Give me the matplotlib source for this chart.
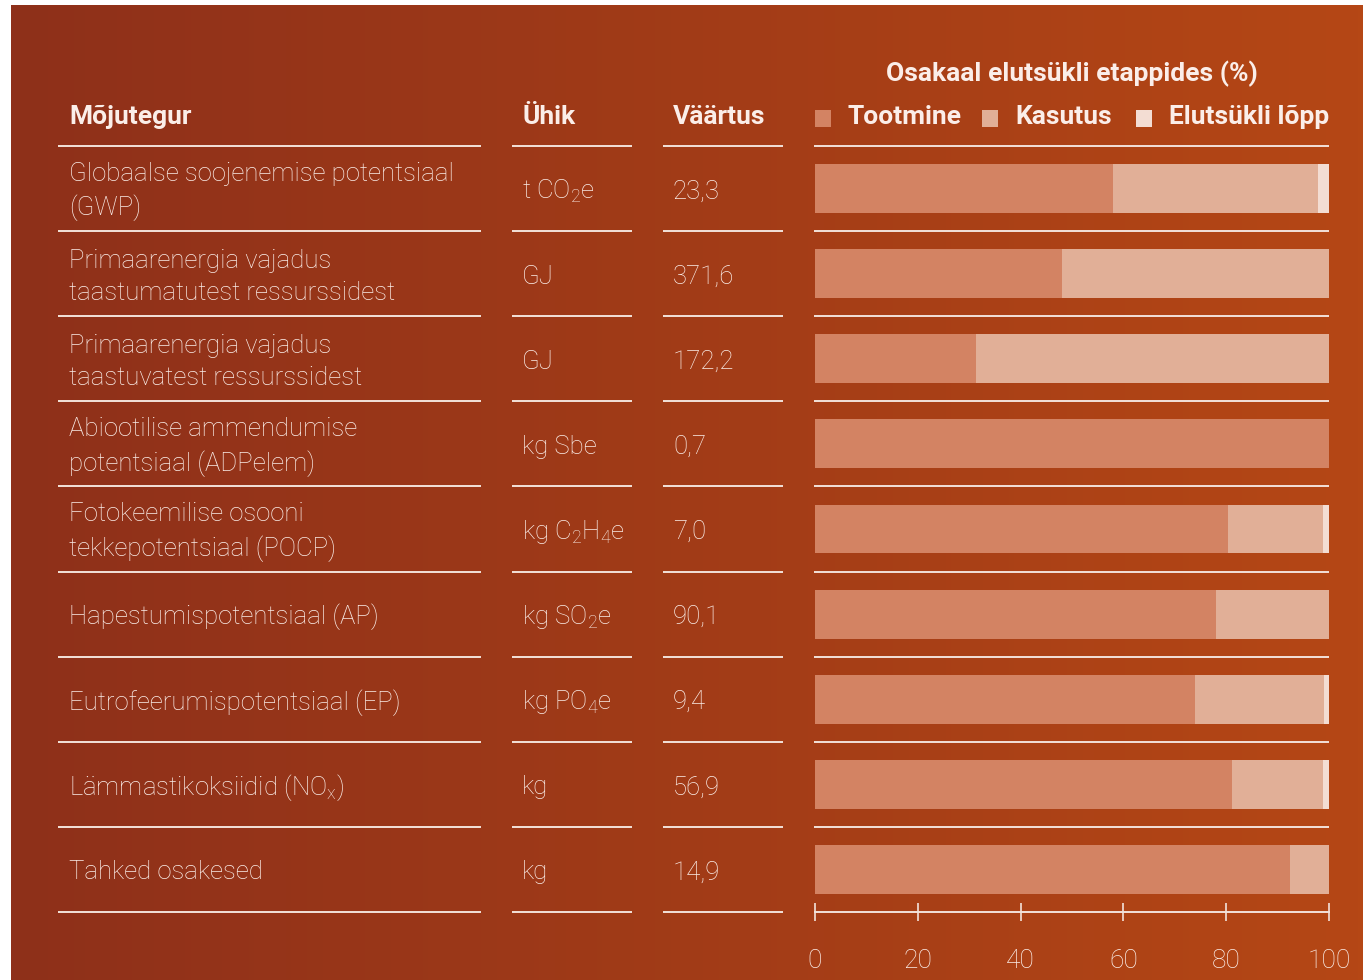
import numpy as np
import matplotlib
matplotlib.use("Agg")
import matplotlib.pyplot as plt
from matplotlib.patches import Rectangle
from matplotlib import font_manager

# --- Data
factors = [
    "Globaalse soojenemise potentsiaal\n(GWP)",
    "Primaarenergia vajadus\ntaastumatutest ressurssidest",
    "Primaarenergia vajadus\ntaastuvatest ressurssidest",
    "Abiootilise ammendumise\npotentsiaal (ADPelem)",
    "Fotokeemilise osooni\ntekkepotentsiaal (POCP)",
    "Hapestumispotentsiaal (AP)",
    "Eutrofeerumispotentsiaal (EP)",
    "Lämmastikoksiidid (NO$_{\\mathrm{x}}$)",
    "Tahked osakesed",
]
units = [
    "t CO$_{\\mathrm{2}}$e",
    "GJ",
    "GJ",
    "kg Sbe",
    "kg C$_{\\mathrm{2}}$H$_{\\mathrm{4}}$e",
    "kg SO$_{\\mathrm{2}}$e",
    "kg PO$_{\\mathrm{4}}$e",
    "kg",
    "kg",
]
values = ["23,3", "371,6", "172,2", "0,7", "7,0", "90,1", "9,4", "56,9", "14,9"]

stages = ["Tootmine", "Kasutus", "Elutsükli lõpp"]
tootmine = [58.0, 48.1, 31.3, 100.0, 80.4, 78.0, 73.9, 81.1, 92.4]
kasutus = [39.9, 51.9, 68.7, 0.0, 18.4, 22.0, 25.1, 17.7, 7.6]
lopp = [2.1, 0.0, 0.0, 0.0, 1.2, 0.0, 1.0, 1.2, 0.0]
ticks = [0, 20, 40, 60, 80, 100]

# --- Style
W, H = 1363, 980
colors = ["#d38363", "#e1af97", "#f3ddd3"]
txt_col = "#fbeee9"
line_col = "#f3e2da"

names = {f.name for f in font_manager.fontManager.ttflist}
fam = "Roboto" if "Roboto" in names else "DejaVu Sans"
plt.rcParams["font.family"] = [fam, "DejaVu Sans"]
plt.rcParams["mathtext.fontset"] = "custom"
plt.rcParams["mathtext.rm"] = fam + ":light"
plt.rcParams["mathtext.it"] = fam + ":light"

fig = plt.figure(figsize=(W / 100, H / 100), dpi=100, facecolor="white")

# -- background gradient
bg = fig.add_axes([11 / W, 0, 1 - 11 / W, 1 - 5 / H], zorder=0)
left = np.array([0x8e, 0x30, 0x1a]) / 255
right = np.array([0xb5, 0x47, 0x15]) / 255
t = np.linspace(0, 1, 256)[None, :, None]
grad = left + (right - left) * t
bg.imshow(grad, aspect="auto", extent=[0, 1, 0, 1])
bg.set_axis_off()

# -- table geometry (pixels from top-left)
y_head = 146
row_h = (912 - 146) / 9
n = len(factors)

# -- bar chart
ax = fig.add_axes([815 / W, (H - 912) / H, (1329 - 815) / W, (912 - 146) / H], zorder=1)
ax.patch.set_alpha(0)
ypos = np.arange(n)
b1 = np.array(tootmine)
b2 = np.array(kasutus)
b3 = np.array(lopp)
ax.barh(ypos, b1, height=0.575, color=colors[0], linewidth=0)
ax.barh(ypos, b2, left=b1, height=0.575, color=colors[1], linewidth=0)
ax.barh(ypos, b3, left=b1 + b2, height=0.575, color=colors[2], linewidth=0)
ax.set_xlim(0, 100)
ax.set_ylim(n - 0.5, -0.5)
for s in ["top", "left", "right"]:
    ax.spines[s].set_visible(False)
ax.spines["bottom"].set_color(line_col)
ax.spines["bottom"].set_linewidth(1.4)
ax.set_yticks([])
ax.set_xticks(ticks)
ax.set_xticklabels([str(v) for v in ticks], fontsize=19, color=txt_col, fontweight="light")
ax.tick_params(axis="x", direction="inout", length=13, width=1.2, color=line_col, pad=20)

# -- overlay for table text and lines
ov = fig.add_axes([0, 0, 1, 1], zorder=2)
ov.set_xlim(0, W)
ov.set_ylim(H, 0)
ov.set_axis_off()
ov.patch.set_alpha(0)

cols = [(58, 481), (512, 632), (663, 783), (814, 1329)]
for k in range(n + 1):
    y = y_head + k * row_h
    for ci, (x0, x1) in enumerate(cols):
        if ci == 3 and k == n:
            continue
        ov.plot([x0, x1], [y, y], color=line_col, lw=1.4, solid_capstyle="butt")

hdr = dict(color=txt_col, fontsize=19, fontweight="bold", va="center")
ov.text(69, 117, "Mõjutegur", ha="left", **hdr)
ov.text(522, 117, "Ühik", ha="left", **hdr)
ov.text(673, 117, "Väärtus", ha="left", **hdr)
ov.text(1072, 74, "Osakaal elutsükli etappides (%)", ha="center", **hdr)

# legend
leg_x = [815, 982, 1136]
for x, c, lab in zip(leg_x, colors, stages):
    ov.add_patch(Rectangle((x, 110), 16, 17, color=c, lw=0))
    ov.text(x + 33, 117, lab, ha="left", **hdr)

body = dict(color=txt_col, fontsize=18.5, fontweight="light", va="center", linespacing=1.42)
for i in range(n):
    yc = y_head + (i + 0.5) * row_h + 3
    ov.text(69, yc, factors[i], ha="left", **body)
    ov.text(522, yc, units[i], ha="left", **body)
    ov.text(673, yc, values[i], ha="left", **body)

fig.savefig("out.png", dpi=100, facecolor=fig.get_facecolor())
